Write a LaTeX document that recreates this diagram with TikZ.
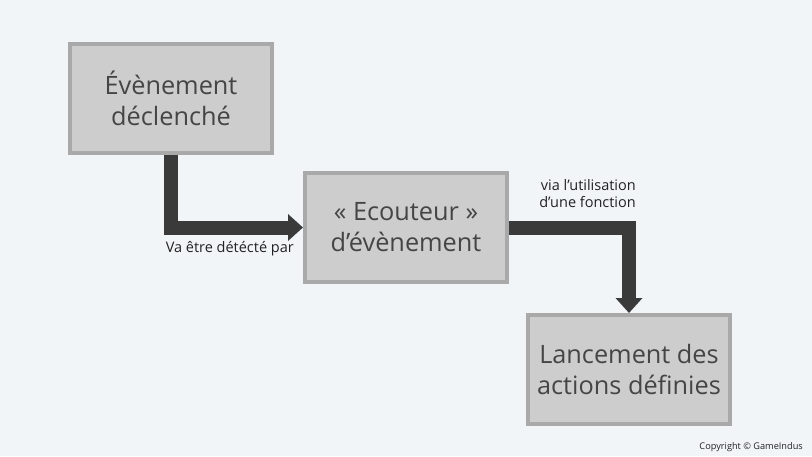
\documentclass[tikz,border=0pt]{standalone}
\usepackage{fontspec}
\setmainfont{Open Sans}
\usetikzlibrary{arrows.meta,positioning}
\definecolor{bgcol}{HTML}{F2F5F8}
\definecolor{boxfill}{HTML}{CDCDCD}
\definecolor{boxline}{HTML}{A9A9A9}
\definecolor{boxtext}{HTML}{454545}
\definecolor{linkcol}{HTML}{3A3A3A}
\definecolor{lbltext}{HTML}{222222}
\begin{document}
\begin{tikzpicture}[x = 1pt, y = -1pt,
		box/.style = {draw = boxline, fill = boxfill, line width = 4pt,
			minimum width = 202pt, minimum height = 109pt, align = center,
			text = boxtext, font = \fontsize{25.3}{31}\selectfont},
		link/.style = {draw = linkcol, line width = 14pt,
			-{Triangle[length = 15pt, width = 26pt]}},
		lbl/.style = {inner sep = 0pt, text = lbltext, align = right,
			font = \fontsize{14.5}{17}\selectfont}]
	% background
	\fill[bgcol] (0, 0) rectangle (812, 456);
	% the three steps
	\node[box] (declenche) at (171, 98.5)  {Évènement\\déclenché};
	\node[box] (ecouteur)  at (406, 227.5) {« Ecouteur »\\d’évènement};
	\node[box] (lancement) at (629, 369.5) {Lancement des\\actions définies};
	% arrows
	\draw[link] (declenche.south) |- (ecouteur.west);
	\draw[link] (ecouteur.east) -| (lancement.north);
	\coordinate (bend) at (lancement.north |- ecouteur.east);
	% labels
	\node[lbl, below left = 13.5pt and 9pt of ecouteur.west] (detecte) {Va être détécté par};
	\node[lbl, anchor = south east] (via) at ([xshift = 7pt, yshift = 19.5pt]bend) {via l’utilisation\\d’une fonction};
	\node[lbl, anchor = east, font = \fontsize{9.2}{12}\selectfont] (copyright) at (803, 447) {Copyright © GameIndus};
\end{tikzpicture}
\end{document}
